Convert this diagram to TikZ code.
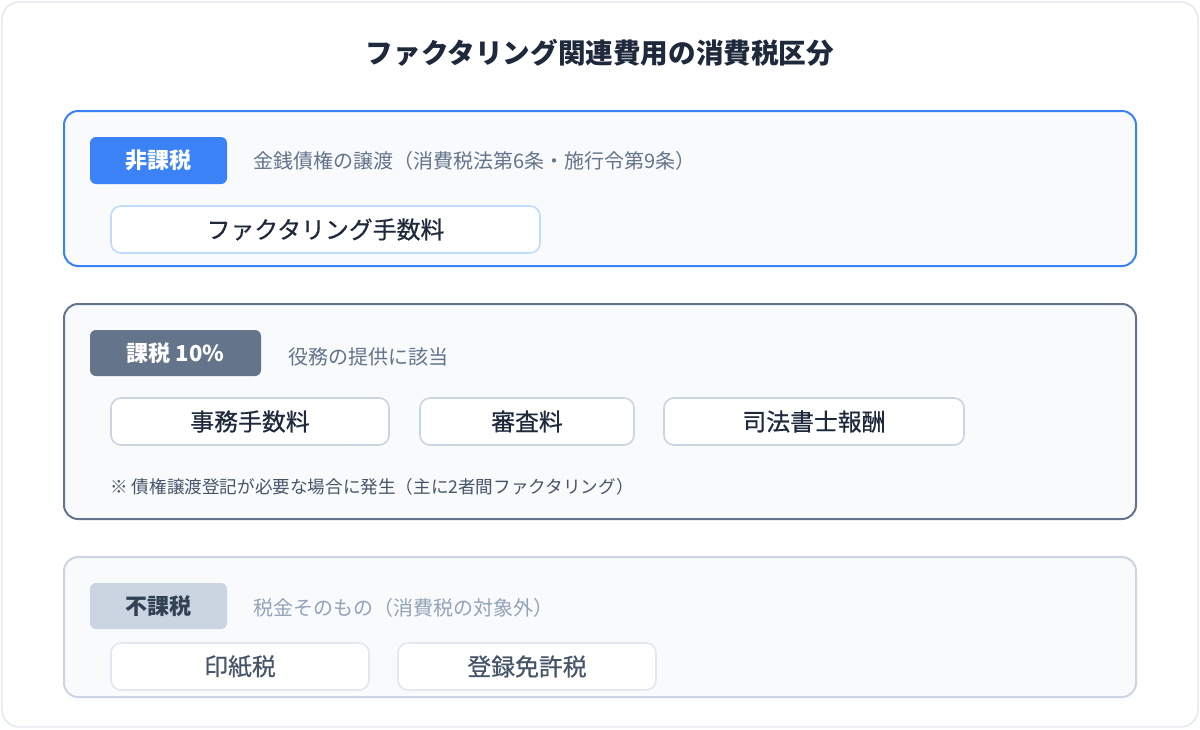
\documentclass[tikz,border=0pt]{standalone}
\usepackage{fontspec}
\setmainfont{Noto Sans CJK JP}
\newfontfamily\medfont[FakeBold=0.6]{Noto Sans CJK JP}
\definecolor{titlec}{HTML}{1E293B}
\definecolor{blue}{HTML}{3B82F6}
\definecolor{lightblue}{HTML}{BFDBFE}
\definecolor{slate}{HTML}{64748B}
\definecolor{slatel}{HTML}{CBD5E1}
\definecolor{slatell}{HTML}{E2E8F0}
\definecolor{bgc}{HTML}{F8FAFC}
\definecolor{descc}{HTML}{64748B}
\definecolor{desclc}{HTML}{94A3B8}
\definecolor{darkc}{HTML}{334155}
\definecolor{notec}{HTML}{475569}
\tikzset{
  px/.style={x=0.75pt,y=-0.75pt},
  sect/.style n args={3}{draw=#1, line width=1.5pt, fill=bgc, rounded corners=10.5pt, minimum width={#2*0.75pt}, minimum height={#3*0.75pt}, inner sep=0pt},
  badge/.style n args={4}{fill=#1, text=#2, rounded corners=4.5pt, minimum width={#3*0.75pt}, minimum height={#4*0.75pt}, inner sep=0pt, font=\fontsize{16.5pt}{19pt}\selectfont\bfseries},
  item/.style n args={4}{draw=#1, text=#2, fill=white, line width=1.2pt, rounded corners=7.5pt, minimum width={#3*0.75pt}, minimum height={#4*0.75pt}, inner sep=0pt, font=\fontsize{17.9pt}{21pt}\selectfont\medfont},
  desc/.style={text=#1, anchor=west, inner sep=0pt, font=\fontsize{15pt}{18pt}\selectfont},
}
\begin{document}
\begin{tikzpicture}[px]
\useasboundingbox (0,0) rectangle (1200,729);
\node[draw=slatell, line width=1.1pt, fill=white, rounded corners=13pt, minimum width={1196*0.75pt}, minimum height={725*0.75pt}] (card) at (600,364.5) {};
\node[text=titlec, font=\fontsize{20.7pt}{24pt}\selectfont\bfseries] (title) at (600,53) {ファクタリング関連費用の消費税区分};

% section 1
\node[sect={blue}{1072}{155}] (s1) at (600,188.5) {};
\node[badge={blue}{white}{137}{47}] (b1) at (158.5,160.5) {非課税};
\node[desc=descc] (d1) at (253,161) {金銭債権の譲渡（消費税法第6条・施行令第9条）};
\node[item={lightblue}{titlec}{429}{47}] (i1) at (325.5,229.5) {ファクタリング手数料};

% section 2
\node[sect={slate}{1072}{215}] (s2) at (600,411.5) {};
\node[badge={slate}{white}{171}{46}] (b2) at (175.5,353) {課税 10\%};
\node[desc=descc] (d2) at (288,357) {役務の提供に該当};
\node[item={slatel}{titlec}{278}{47}] (i2a) at (250,421.5) {事務手数料};
\node[item={slatel}{titlec}{214}{47}] (i2b) at (527,421.5) {審査料};
\node[item={slatel}{titlec}{300}{47}] (i2c) at (814,421.5) {司法書士報酬};
\node[text=notec, anchor=west, inner sep=0pt, font=\fontsize{13.2pt}{16pt}\selectfont] (n2) at (110,487) {※ 債権譲渡登記が必要な場合に発生（主に2者間ファクタリング）};

% section 3
\node[sect={slatel}{1072}{140}] (s3) at (600,627) {};
\node[badge={slatel}{darkc}{137}{46}] (b3) at (158.5,606) {不課税};
\node[desc=desclc] (d3) at (253,608) {税金そのもの（消費税の対象外）};
\node[item={slatell}{notec}{258}{47}] (i3a) at (240,666.5) {印紙税};
\node[item={slatell}{notec}{258}{47}] (i3b) at (527,666.5) {登録免許税};
\end{tikzpicture}
\end{document}
